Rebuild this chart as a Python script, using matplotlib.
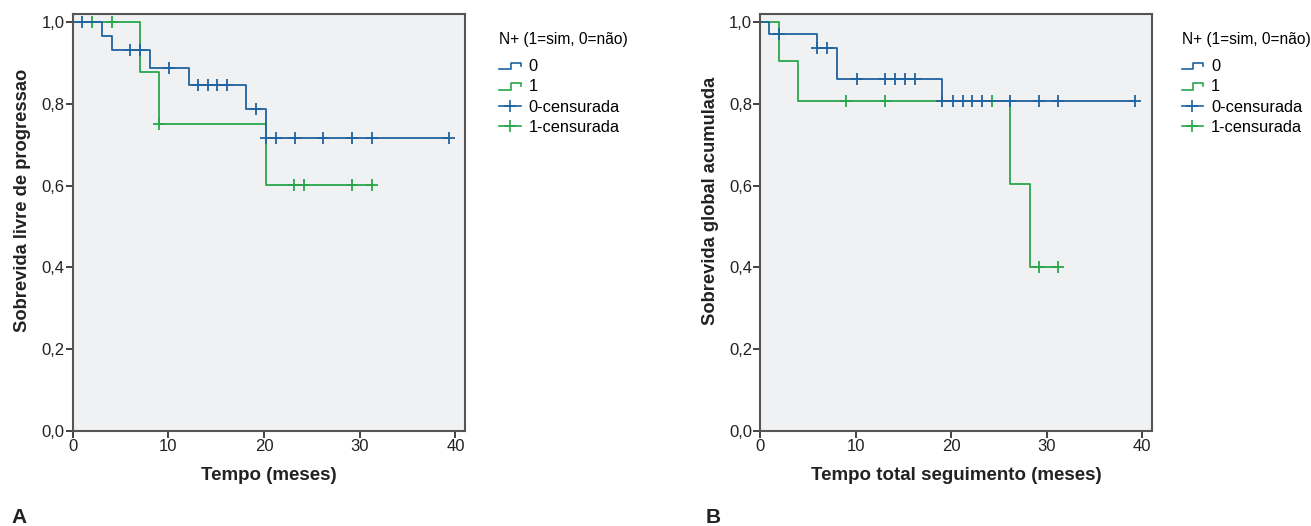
import numpy as np
import matplotlib.pyplot as plt
from matplotlib.lines import Line2D
from matplotlib.legend_handler import HandlerBase

plt.rcParams['font.family'] = ['Liberation Sans', 'DejaVu Sans']

# Panel A - sobrevida livre de progressao
a0_t = [0, 3.06, 4.07, 8.07, 12.15, 18.1, 20.2]
a0_s = [1.0, 0.966, 0.931, 0.889, 0.847, 0.788, 0.716]
a0_end = 39.3
a0_cens = [1.0, 6.0, 7.0, 10.1, 13.1, 14.1, 15.1, 16.1, 19.2, 20.2, 21.2, 23.2, 26.2, 29.2, 31.3, 39.3]

a1_t = [0, 7.0, 9.0, 20.2]
a1_s = [1.0, 0.877, 0.752, 0.601]
a1_end = 31.3
a1_cens = [2.0, 4.1, 9.0, 23.1, 24.2, 29.2, 31.3]

# Panel B - sobrevida global
b0_t = [0, 0.9, 5.9, 8.0, 19.0]
b0_s = [1.0, 0.971, 0.936, 0.861, 0.806]
b0_end = 39.2
b0_cens = [2.0, 5.9, 7.0, 10.1, 13.1, 14.1, 15.1, 16.2, 19.0, 20.2, 21.2, 22.2, 23.2, 26.2, 29.2, 31.2, 39.2]

b1_t = [0, 1.9, 3.9, 26.2, 28.2]
b1_s = [1.0, 0.904, 0.806, 0.604, 0.40]
b1_end = 31.2
b1_cens = [9.0, 13.1, 24.3, 29.2, 31.2]

blue = '#1f63a0'
green = '#29a64b'
bg = '#f0f1f3'


class StepHandler(HandlerBase):
    def create_artists(self, legend, orig_handle, xdescent, ydescent, width, height, fontsize, trans):
        x0 = -xdescent
        y0 = -ydescent
        xs = [x0, x0 + width * 0.55, x0 + width * 0.55, x0 + width, x0 + width]
        ys = [y0 + height * 0.15, y0 + height * 0.15, y0 + height * 0.75, y0 + height * 0.75, y0 + height * 0.45]
        return [Line2D(xs, ys, color=orig_handle.get_color(), lw=1.2, transform=trans)]


def km_curve(ax, t, s, end, cens, color):
    tt = list(t) + [end]
    ss = list(s) + [s[-1]]
    ax.step(tt, ss, where='post', color=color, lw=1.3)
    idx = np.searchsorted(t, cens, side='right') - 1
    cy = np.array(s)[idx]
    ax.plot(cens, cy, ls='none', marker='+', ms=8, mew=1.3, color=color)


fig = plt.figure(figsize=(13.11, 5.26), dpi=100)
axA = fig.add_axes([0.0555, 0.1806, 0.2992, 0.7928])
axB = fig.add_axes([0.580, 0.1806, 0.2985, 0.7928])

panels = [
    (axA, a0_t, a0_s, a0_end, a0_cens, a1_t, a1_s, a1_end, a1_cens,
     'Tempo (meses)', 'Sobrevida livre de progressao', 1.058),
    (axB, b0_t, b0_s, b0_end, b0_cens, b1_t, b1_s, b1_end, b1_cens,
     'Tempo total seguimento (meses)', 'Sobrevida global acumulada', 1.047),
]

for ax, t0, s0, e0, c0, t1, s1, e1, c1, xl, yl, legx in panels:
    ax.set_facecolor(bg)
    km_curve(ax, t1, s1, e1, c1, green)
    km_curve(ax, t0, s0, e0, c0, blue)
    ax.set_xlim(0, 41)
    ax.set_ylim(0, 1.02)
    ax.set_xticks([0, 10, 20, 30, 40])
    ax.set_yticks([0, 0.2, 0.4, 0.6, 0.8, 1.0])
    ax.set_yticklabels(['0,0', '0,2', '0,4', '0,6', '0,8', '1,0'])
    ax.tick_params(direction='out', length=5, width=1.2, labelsize=12, colors='#222222', pad=1)
    for sp in ax.spines.values():
        sp.set_linewidth(1.5)
        sp.set_color('#555555')
    ax.set_xlabel(xl, fontsize=13.5, fontweight='bold', color='#222222', labelpad=9)
    ax.set_ylabel(yl, fontsize=13.2, fontweight='bold', color='#222222')
    ax.yaxis.set_label_coords(-0.106, 0.552)

    handles = [Line2D([], [], color=blue), Line2D([], [], color=green),
               Line2D([], [], color=blue, marker='+', ms=9, mew=1.2, lw=1.2),
               Line2D([], [], color=green, marker='+', ms=9, mew=1.2, lw=1.2)]
    labels = ['0', '1', '0-censurada', '1-censurada']
    leg = ax.legend(handles, labels, title='N+ (1=sim, 0=não)', loc='upper left',
                    bbox_to_anchor=(legx, 0.985), frameon=False, fontsize=11.8,
                    title_fontsize=11.2, handlelength=1.3, handletextpad=0.5,
                    labelspacing=0.32, alignment='left', borderaxespad=0.3,
                    handler_map={handles[0]: StepHandler(), handles[1]: StepHandler()})
    leg._legend_box.sep = 9

fig.text(0.009, 0.005, 'A', fontsize=15, fontweight='bold', color='#222222')
fig.text(0.538, 0.005, 'B', fontsize=15, fontweight='bold', color='#222222')

fig.savefig('out.png', dpi=100, facecolor='white')
